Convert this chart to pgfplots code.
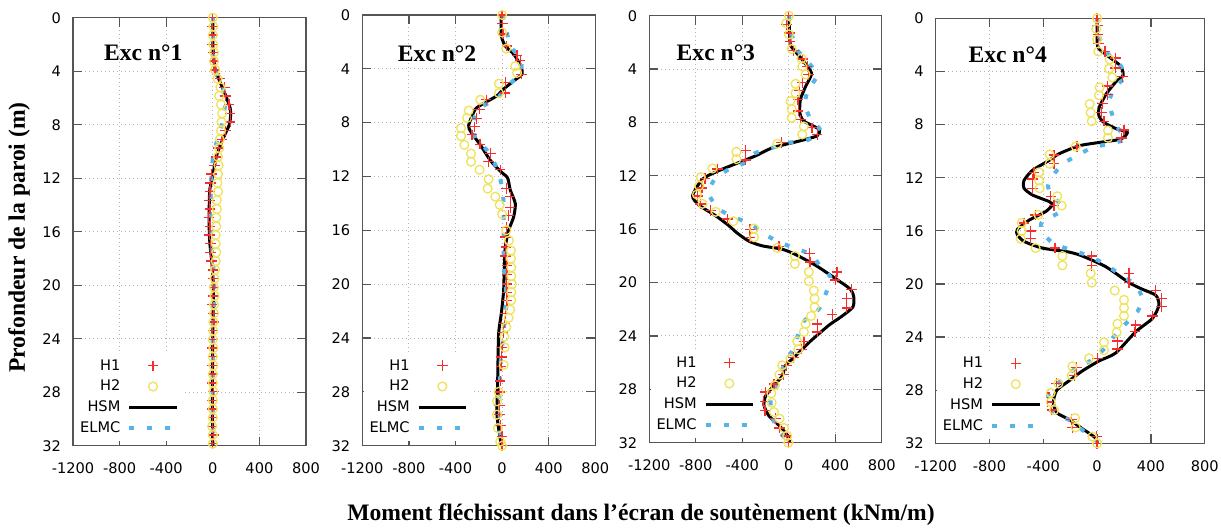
\documentclass[border=0pt]{standalone}
\usepackage{pgfplots}
\pgfplotsset{compat=1.18}
\usepackage{fontspec}
\setmainfont{Liberation Serif}
\newfontfamily\ticksans{DejaVu Sans}

\definecolor{honec}{RGB}{245,45,45}
\definecolor{htwoc}{RGB}{240,226,90}
\definecolor{elmcc}{RGB}{86,180,233}
\definecolor{framec}{RGB}{85,85,85}

\newcommand\labfont{\bfseries\fontsize{11.8}{14}\selectfont}
\newcommand\tickfont{\ticksans\fontsize{7.3}{8.5}\selectfont}

\pgfplotsset{
  exc/.style={
    scale only axis, anchor=north west,
    xmin=-1200, xmax=800, ymin=0, ymax=32, y dir=reverse,
    xtick={-1200,-800,-400,0,400,800},
    xticklabels={-1200,-800,-400,0,400,800},
    ytick={0,4,8,12,16,20,24,28,32},
    yticklabels={0,4,8,12,16,20,24,28,32},
    tick align=inside, major tick length=4.5pt,
    tick style={framec, line width=0.6pt},
    axis line style={framec, line width=0.6pt},
    grid=major,
    major grid style={gray!60, line width=0.5pt, dash pattern=on 0.5pt off 1.5pt},
    tick label style={font=\tickfont},
    yticklabel style={xshift=-2.5pt},
    xticklabel style={yshift=-5pt},
    legend plot pos=right, legend cell align=right,
    legend style={at={(0,0)}, anchor=south west, xshift=0.4pt, yshift=2.2pt,
      draw=none, fill=white, inner sep=2.5pt, row sep=2.6pt, column sep=3pt,
      font=\tickfont,
      nodes={inner sep=0.5pt, text height=5.6pt, text depth=1.2pt}},
    legend image code/.code={\draw[mark repeat=2,mark phase=2,##1]
      plot coordinates {(0pt,0pt) (11.85pt,0pt) (23.7pt,0pt)};},
  },
  sone/.style={only marks, mark=+, mark size=2.6pt, color=honec, mark options={line width=0.7pt}},
  stwo/.style={only marks, mark=o, mark size=2.2pt, color=htwoc, mark options={line width=0.65pt}},
  shsm/.style={no marks, color=black, line width=1.5pt, smooth, tension=0.4},
  selmc/.style={no marks, color=elmcc, line width=2pt, dash pattern=on 2.5pt off 6.5pt, smooth, tension=0.4},
}

\begin{document}
\begin{tikzpicture}
\useasboundingbox (0,0) rectangle (610.5pt,-264.5pt);

% ---------- Exc n°1
\begin{axis}[exc, at={(36.5pt,-8.85pt)}, width=116.5pt, height=214pt]
\addplot[sone] coordinates {
(0,0) (-5,0.65) (0,1.3) (-5,2.0) (5,2.6) (10,3.25) (20,3.9) (60,4.55) (100,5.2)
(110,5.85) (140,6.5) (150,7.15) (150,7.8) (110,8.45) (80,9.1) (50,9.75) (30,10.4)
(15,11.05) (-10,11.7) (-20,12.35) (-25,13.0) (-30,13.65) (-25,14.3) (-35,14.95)
(-25,15.6) (-30,16.25) (-20,16.9) (-20,17.55) (-10,18.2) (0,18.85) (5,19.5)
(10,20.15) (0,20.8) (-5,21.45) (5,22.1) (10,22.75) (0,23.4) (0,24.05) (-5,24.7)
(0,25.35) (-5,26.0) (0,26.65) (-5,27.3) (5,27.95) (-5,28.6) (-5,29.25) (0,29.9)
(-5,30.55) (5,31.2) (0,31.85)
};
\addlegendentry{H1}
\addplot[stwo] coordinates {
(0,0) (5,0.65) (0,1.3) (5,2.0) (10,2.6) (10,3.25) (20,3.9) (40,4.55) (65,5.2)
(55,5.85) (70,6.5) (80,7.15) (75,7.8) (70,8.45) (60,9.1) (55,9.75) (45,10.4)
(50,11.05) (45,11.7) (40,12.35) (45,13.0) (35,13.65) (35,14.3) (30,14.95)
(30,15.6) (25,16.25) (25,16.9) (30,17.55) (25,18.2) (20,18.85) (15,19.5)
(10,20.15) (15,20.8) (10,21.45) (10,22.1) (5,22.75) (5,23.4) (0,24.05) (5,24.7)
(0,25.35) (5,26.0) (0,26.65) (0,27.3) (5,27.95) (0,28.6) (0,29.25) (0,29.9)
(-5,30.55) (0,31.2) (0,31.85)
};
\addlegendentry{H2}
\addplot[shsm] coordinates {
(0,0) (0,1.3) (2,2.3) (19,3.8) (62,4.8) (119,6.0) (150,6.8) (153,7.3) (142,8.0)
(90,9.0) (33,10.3) (0,11.8) (-25,12.8) (-30,13.8) (-32,15.0) (-30,16.0)
(-24,17.0) (-4,18.7) (5,20.5) (0,23.5) (-4,28.5) (0,32)
};
\addlegendentry{HSM}
\addplot[selmc] coordinates {
(0,0) (0,1.3) (2,2.8) (33,4.3) (90,5.3) (105,6.5) (76,8.0) (33,9.3) (0,10.6)
(-13,12.0) (-18,13.4) (-24,14.8) (-18,16.0) (-10,17.3) (5,18.7) (13,20.2)
(10,21.5) (0,23.5) (0,27) (0,32)
};
\addlegendentry{ELMC}
\node[font=\labfont] at (axis cs:-597,2.64) {Exc n°1};
\end{axis}

% ---------- Exc n°2
\begin{axis}[exc, at={(181.15pt,-7.5pt)}, width=116.5pt, height=215.35pt]
\addplot[sone] coordinates {
(0,0) (5,0.65) (7,1.4) (40,2.3) (128,3.0) (156,3.4) (165,4.4) (27,5.0) (27,5.8)
(-136,6.3) (-195,7.0) (-221,7.7) (-238,8.3) (-259,8.9) (-190,9.6) (-101,10.3)
(-116,10.9) (-16,11.5) (36,12.9) (70,13.5) (70,14.3) (56,14.9) (36,15.8)
(30,16.5) (35,17.25) (30,17.9) (42,18.6) (42,19.3) (40,20.0) (42,20.6)
(42,21.2) (27,22.2) (20,22.9) (10,23.6) (0,24.7) (-5,25.4) (-10,26.1)
(-16,27.2) (-20,28.0) (-21,29.0) (-21,29.7) (-15,30.5) (0,31.3) (0,32)
};
\addlegendentry{H1}
\addplot[stwo] coordinates {
(0,0) (0,1.3) (36,2.5) (113,3.8) (128,4.3) (-27,5.1) (-27,5.8) (-187,6.3)
(-287,7.1) (-301,7.65) (-353,8.4) (-353,9.0) (-324,9.65) (-267,10.3)
(-267,10.9) (-193,11.5) (-116,12.2) (-124,12.9) (-58,13.5) (-21,14.1)
(0,14.8) (36,16.0) (59,16.75) (76,17.5) (76,18.1) (79,18.75) (79,19.4)
(85,20.0) (79,20.6) (79,21.2) (70,21.9) (56,22.5) (36,23.2) (19,23.9)
(22,24.7) (13,26.0) (-30,28.0) (-44,28.7) (-44,29.7) (-36,30.7) (-16,31.7) (0,32)
};
\addlegendentry{H2}
\addplot[shsm] coordinates {
(-7,0) (-7,1.5) (27,2.3) (99,2.9) (162,3.8) (170,4.4) (99,4.9) (13,5.5)
(-44,6.0) (-144,6.5) (-230,7.0) (-287,8.2) (-267,8.7) (-187,9.65) (-101,10.8)
(-16,11.6) (47,12.1) (70,13.0) (113,14.0) (99,15.0) (56,16.0) (27,17.25)
(19,18.75) (13,20.5) (-7,22.2) (-30,23.7) (-38,27.2) (-44,29.7) (-16,31.5) (-7,32)
};
\addlegendentry{HSM}
\addplot[selmc] coordinates {
(0,0) (36,1.05) (70,2.3) (162,3.3) (156,4.3) (36,5.4) (-44,6.2) (-187,6.9)
(-244,7.8) (-230,9.15) (-124,10.1) (-44,11.4) (0,12.8) (13,14.0) (13,15.4)
(13,16.9) (13,18.1) (27,19.5) (36,21.5) (19,23.0) (0,24.7) (-16,26.2)
(-24,28.7) (-16,31.0) (-7,32)
};
\addlegendentry{ELMC}
\node[font=\labfont] at (axis cs:-559,2.85) {Exc n°2};
\end{axis}

% ---------- Exc n°3
\begin{axis}[exc, at={(324.65pt,-7.85pt)}, width=116.2pt, height=213.5pt]
\addplot[sone] coordinates {
(0,0) (-20,0.65) (5,1.3) (10,1.95) (40,2.6) (120,3.25) (159,3.8) (170,4.4)
(116,5.0) (90,5.6) (80,6.3) (82,7.15) (100,7.8) (200,8.4) (245,8.9) (-61,9.5)
(-370,10.1) (-370,10.8) (-613,11.5) (-720,12.2) (-748,12.9) (-785,13.5)
(-760,14.1) (-671,14.6) (-528,15.25) (-333,16.0) (-333,16.6) (-84,17.3)
(180,17.8) (182,18.45) (416,19.2) (400,19.8) (540,20.5) (499,21.2) (499,21.9)
(374,22.4) (245,23.1) (245,23.7) (130,24.4) (110,25.0) (40,25.6) (-20,26.2)
(-45,26.9) (-127,27.6) (-199,28.2) (-215,28.9) (-204,29.6) (-113,30.2)
(-80,30.9) (-20,31.5) (0,32)
};
\addlegendentry{H1}
\addplot[stwo] coordinates {
(2,0) (-21,0.55) (2,1.4) (25,2.5) (110,3.2) (116,3.8) (145,4.4) (59,5.1)
(59,5.8) (16,6.4) (25,7.0) (25,7.65) (130,8.3) (116,8.9) (-99,9.6) (-450,10.2)
(-450,10.75) (-656,11.45) (-757,12.1) (-771,12.75) (-790,13.4) (-742,14.1)
(-628,14.7) (-476,15.4) (-299,15.95) (-299,16.6) (-99,17.4) (53,18.0)
(53,18.6) (173,19.2) (173,19.9) (216,20.6) (222,21.2) (222,21.85) (193,22.5)
(145,23.1) (130,23.7) (73,24.4) (82,25.0) (16,25.7) (-56,26.2) (-80,26.9)
(-119,27.7) (-150,28.3) (-147,29.0) (-127,29.7) (-79,30.2) (-40,30.9)
(-13,31.5) (-4,32)
};
\addlegendentry{H2}
\addplot[shsm] coordinates {
(2,0) (7,1.3) (15,2.2) (58,2.7) (116,3.3) (196,4.3) (145,5.3) (100,6.3)
(96,7.3) (130,7.9) (259,8.5) (245,9.0) (87,9.4) (-141,9.9) (-284,10.5)
(-428,11.0) (-599,11.6) (-742,12.25) (-828,13.5) (-771,14.2) (-628,15.0)
(-520,15.7) (-442,16.3) (-342,16.9) (-227,17.25) (-56,17.5) (59,17.9)
(230,18.7) (402,19.7) (531,20.5) (560,21.1) (551,21.85) (445,22.6) (345,23.2)
(173,24.5) (59,25.5) (-27,26.2) (-56,27.0) (-127,27.7) (-199,28.5) (-213,29.2)
(-170,30.0) (-84,30.7) (2,31.6) (2,32)
};
\addlegendentry{HSM}
\addplot[selmc] coordinates {
(2,0) (25,1.3) (59,2.4) (116,3.0) (245,4.4) (168,5.5) (139,6.65) (191,7.8)
(273,8.6) (168,9.3) (16,9.5) (-141,9.9) (-290,10.3) (-370,11.0) (-513,11.5)
(-642,12.3) (-685,13.4) (-599,14.5) (-470,15.1) (-327,15.6) (-213,16.35)
(-99,16.9) (44,17.4) (196,17.9) (265,18.7) (359,19.6) (316,20.9) (259,22.0)
(130,22.9) (73,24.1) (30,25.1) (-41,26.2) (-99,27.5) (-156,28.7) (-141,30.0)
(-99,31.0) (-13,31.8) (0,32)
};
\addlegendentry{ELMC}
\node[font=\labfont] at (axis cs:-627,2.81) {Exc n°3};
\end{axis}

% ---------- Exc n°4
\begin{axis}[exc, at={(467.85pt,-9.15pt)}, width=134.5pt, height=212.5pt]
\addplot[sone] coordinates {
(0,0) (4,0.55) (5,1.2) (10,1.9) (60,2.5) (138,3.0) (138,3.75) (190,4.4)
(76,5.1) (76,5.75) (40,6.4) (34,7.1) (50,7.75) (200,8.4) (180,9.0) (-150,9.65)
(-320,10.3) (-320,10.95) (-469,11.6) (-481,12.1) (-481,12.8) (-345,13.4)
(-320,14.1) (-457,14.8) (-543,15.4) (-494,16.0) (-494,16.6) (-313,17.3)
(-40,17.9) (-40,18.6) (237,19.2) (237,19.9) (436,20.5) (480,21.1) (480,21.7)
(411,22.4) (287,23.1) (282,23.6) (151,24.3) (151,24.9) (2,25.6) (-154,26.3)
(-170,26.9) (-303,27.5) (-387,28.2) (-370,28.9) (-337,29.5) (-190,30.2)
(-184,30.8) (-6,31.5) (0,32)
};
\addlegendentry{H1}
\addplot[stwo] coordinates {
(0,0) (-6,0.8) (0,1.6) (9,2.5) (94,3.1) (89,3.8) (113,4.45) (19,5.2) (14,5.8)
(-55,6.45) (-48,7.1) (-40,7.75) (81,8.45) (81,9.0) (-159,9.65) (-353,10.25)
(-353,10.95) (-432,11.6) (-432,12.2) (-427,12.8) (-296,13.4) (-263,14.1)
(-437,14.8) (-561,15.4) (-561,16.0) (-568,16.6) (-457,17.3) (-258,17.9)
(-258,18.6) (-48,19.2) (-40,19.9) (131,20.5) (200,21.2) (200,21.8) (200,22.4)
(151,23.0) (145,23.65) (51,24.4) (51,25.0) (-60,25.6) (-184,26.2) (-189,26.9)
(-288,27.5) (-345,28.2) (-345,28.9) (-320,29.5) (-164,30.1) (-159,30.8)
(-35,31.5) (0,32)
};
\addlegendentry{H2}
\addplot[shsm] coordinates {
(0,0) (0,1.8) (14,2.3) (89,2.9) (175,3.6) (193,4.3) (138,4.8) (64,5.75)
(14,6.75) (14,7.35) (51,7.85) (150,8.35) (225,8.6) (175,9.1) (14,9.35)
(-134,9.6) (-283,10.2) (-357,10.7) (-481,11.45) (-543,12.2) (-543,12.8)
(-481,13.3) (-357,13.8) (-333,14.05) (-382,14.55) (-506,15.2) (-593,15.9)
(-593,16.3) (-543,16.8) (-407,17.3) (-209,17.6) (-110,17.9) (64,18.7)
(237,19.9) (336,20.4) (436,20.85) (460,21.6) (411,22.6) (287,23.6) (138,25.2)
(14,25.8) (-110,26.55) (-209,27.3) (-300,28.0) (-325,28.9) (-300,29.7)
(-209,30.2) (-110,30.9) (-11,31.6) (0,32)
};
\addlegendentry{HSM}
\addplot[selmc] coordinates {
(0,0) (14,1.3) (64,2.5) (163,3.4) (213,4.4) (138,5.1) (89,6.4) (150,8.2)
(213,9.1) (64,9.5) (-60,9.85) (-258,11.0) (-357,12.3) (-357,13.0) (-258,14.4)
(-407,15.3) (-412,16.0) (-333,16.9) (-209,17.4) (-85,17.8) (39,18.4)
(188,19.4) (287,20.1) (336,21.1) (299,22.1) (213,23.0) (138,23.8) (51,24.9)
(-35,25.7) (-184,26.55) (-333,27.9) (-382,28.9) (-333,29.65) (-196,30.3)
(-110,31.0) (-35,31.5) (0,31.9)
};
\addlegendentry{ELMC}
\node[font=\labfont] at (axis cs:-665,2.75) {Exc n°4};
\end{axis}

\node[font=\labfont, rotate=90] at (9.5pt,-118.75pt) {Profondeur de la paroi (m)};
\node[font=\labfont] at (320.5pt,-257.5pt) {Moment fléchissant dans l’écran de soutènement (kNm/m)};
\end{tikzpicture}
\end{document}
